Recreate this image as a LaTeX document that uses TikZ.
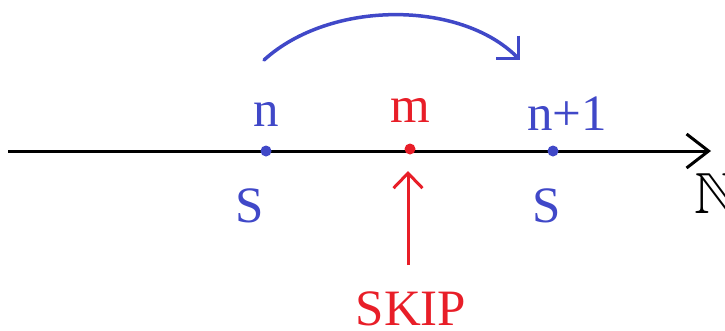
\documentclass[tikz,border=0pt]{standalone}
\usepackage{amssymb}
\usepackage{fontspec}
\setmainfont{Liberation Serif}
\usetikzlibrary{arrows.meta}
\definecolor{myblue}{RGB}{64,72,200}
\definecolor{myred}{RGB}{232,30,40}
\begin{document}
\begin{tikzpicture}[x=1pt,y=-1pt,
  lbl/.style={inner sep=0pt,font=\fontsize{51}{55}\selectfont},
  dotb/.style={circle,fill=myblue,inner sep=0pt,minimum size=11pt},
  dotr/.style={circle,fill=myred,inner sep=0pt,minimum size=11pt}]
\useasboundingbox (0,0) rectangle (725,330);
\coordinate (a0) at (8,151);
\coordinate (a1) at (711,151);
\draw[line width=3pt,-{Straight Barb[length=22pt,width=34pt,line width=3pt]}] (a0) -- (a1);
\node[dotb] (pn) at (266,151) {};
\node[dotr] (pm) at (410,149) {};
\node[dotb] (pn1) at (553,151) {};
\node[lbl,text=myblue] (tn) at (266,114) {n};
\node[lbl,text=myred] (tm) at (410,110) {m};
\node[lbl,text=myblue] (tn1) at (567,114) {n+1};
\node[lbl,text=myblue] (s1) at (250,206) {S};
\node[lbl,text=myblue] (s2) at (547,206) {S};
\node[lbl,text=myred,anchor=base,text depth=0pt] (skip) at (411,325) {SKIP};
\node[lbl,anchor=west,font=\fontsize{58}{60}\selectfont] (nn) at (694,194) {$\mathbb{N}$};
\coordinate (c0) at (264,60);
\coordinate (c1) at (520,60);
\draw[myblue,line width=3.5pt,line cap=round,-{Straight Barb[length=16pt,width=32pt,line width=3.5pt]}] (c0) .. controls (330,0) and (460,0) .. (c1);
\coordinate (k0) at (408,265);
\coordinate (k1) at (408,171);
\draw[myred,line width=3pt,-{Straight Barb[length=15pt,width=29pt,line width=3pt]}] (k0) -- (k1);
\end{tikzpicture}
\end{document}
